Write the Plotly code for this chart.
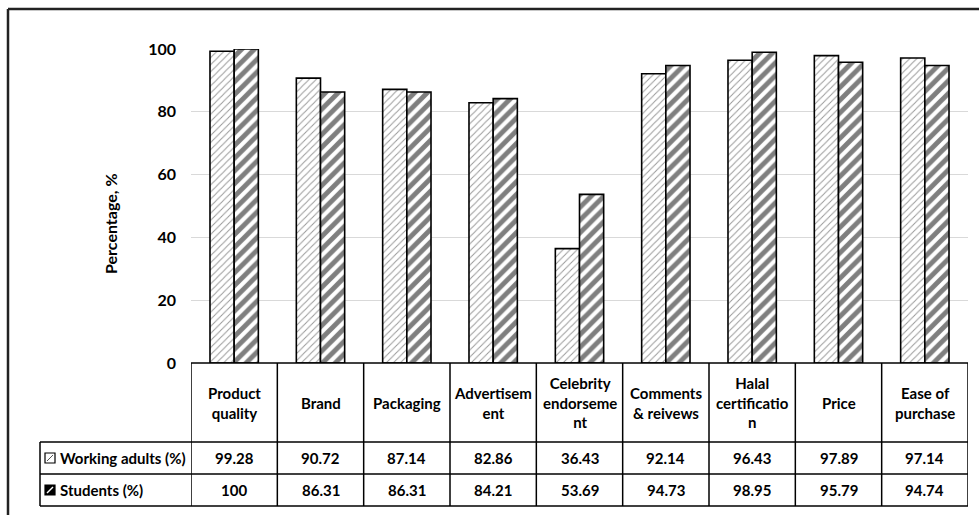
import plotly.graph_objects as go

# Factor labels as they wrap inside the table header cells
categories = [
    "Product<br>quality",
    "Brand",
    "Packaging",
    "Advertisem<br>ent",
    "Celebrity<br>endorseme<br>nt",
    "Comments<br>& reivews",
    "Halal<br>certificatio<br>n",
    "Price",
    "Ease of<br>purchase",
]
working_adults = [99.28, 90.72, 87.14, 82.86, 36.43, 92.14, 96.43, 97.89, 97.14]
students = [100, 86.31, 86.31, 84.21, 53.69, 94.73, 98.95, 95.79, 94.74]
series_names = ["Working adults (%)", "Students (%)"]
y_ticks = [0, 20, 40, 60, 80, 100]

FONT = "Lato"
W, H = 979, 515
L, R, T, B = 191, 11, 49, 152
PW, PH = W - L - R, H - T - B


def px_x(p):
    return (p - L) / PW


def px_y(p):
    return (H - B - p) / PH


fig = go.Figure()
fig.add_bar(
    x=categories, y=working_adults, name=series_names[0],
    marker=dict(color="white", line=dict(color="black", width=1.6),
                pattern=dict(shape="/", size=5, solidity=0.2,
                             fgcolor="#333", bgcolor="white")),
)
fig.add_bar(
    x=categories, y=students, name=series_names[1],
    marker=dict(color="white", line=dict(color="black", width=1.6),
                pattern=dict(shape="/", size=9, solidity=0.55,
                             fgcolor="black", bgcolor="white")),
)

shapes = []
ann = []
line = dict(color="black", width=1.5)

# Row boundaries of the data table (pixel rows)
y_top, y_head, y_row1, y_row2 = H - B, 442, 474, 506
x_leg = 40

# horizontal rules
shapes.append(dict(type="line", xref="x", yref="paper", x0=-0.5, x1=len(categories) - 0.5,
                   y0=0, y1=0, line=line))
for yp in (y_head, y_row1, y_row2):
    shapes.append(dict(type="line", xref="paper", yref="paper", x0=px_x(x_leg), x1=1,
                       y0=px_y(yp), y1=px_y(yp), line=line))
# vertical rules
for i in range(len(categories) + 1):
    shapes.append(dict(type="line", xref="x", yref="paper", x0=i - 0.5, x1=i - 0.5,
                       y0=0, y1=px_y(y_row2), line=line))
shapes.append(dict(type="line", xref="paper", yref="paper", x0=px_x(x_leg), x1=px_x(x_leg),
                   y0=px_y(y_head), y1=px_y(y_row2), line=line))

# legend keys in the row headers
kx0, kx1 = 45, 55
for yc, dark in (((y_head + y_row1) / 2, False), ((y_row1 + y_row2) / 2, True)):
    shapes.append(dict(type="rect", xref="paper", yref="paper",
                       x0=px_x(kx0), x1=px_x(kx1), y0=px_y(yc - 5), y1=px_y(yc + 5),
                       fillcolor="black" if dark else "white",
                       line=dict(color="black", width=1.2)))
    shapes.append(dict(type="line", xref="paper", yref="paper",
                       x0=px_x(kx0 + 2), x1=px_x(kx1 - 2), y0=px_y(yc + 3), y1=px_y(yc - 3),
                       line=dict(color="white" if dark else "#555", width=1.5 if dark else 1)))

# outer frame: only its top and left edges fall inside the canvas
frame = dict(color="#222", width=2.5)
shapes.append(dict(type="line", xref="paper", yref="paper",
                   x0=px_x(8), x1=px_x(W + 5), y0=px_y(9), y1=px_y(9), line=frame))
shapes.append(dict(type="line", xref="paper", yref="paper",
                   x0=px_x(8), x1=px_x(8), y0=px_y(9), y1=px_y(H + 5), line=frame))

font = dict(family=FONT, size=15, color="black", weight="bold")

# header cells
for c in categories:
    ann.append(dict(x=c, xref="x", yref="paper", y=px_y((y_top + y_head) / 2),
                    text=c, showarrow=False, font=font, xanchor="center", yanchor="middle"))
# value cells
for vals, yc in ((working_adults, (y_head + y_row1) / 2), (students, (y_row1 + y_row2) / 2)):
    for c, v in zip(categories, vals):
        ann.append(dict(x=c, xref="x", yref="paper", y=px_y(yc), text=f"{v:g}",
                        showarrow=False, font=font, xanchor="center", yanchor="middle"))
# row headers
for name, yc in ((series_names[0], (y_head + y_row1) / 2), (series_names[1], (y_row1 + y_row2) / 2)):
    ann.append(dict(x=px_x(58), xref="paper", yref="paper", y=px_y(yc), text=name,
                    showarrow=False, font=font, xanchor="left", yanchor="middle"))

# y-axis title
ann.append(dict(x=px_x(110), xref="paper", yref="paper", y=px_y(224), text="Percentage, %",
                textangle=-90, showarrow=False, xanchor="center", yanchor="middle",
                font=dict(family=FONT, size=16, color="black", weight="bold")))

fig.update_layout(
    width=W, height=H,
    margin=dict(l=L, r=R, t=T, b=B, autoexpand=False),
    paper_bgcolor="white", plot_bgcolor="white",
    barmode="group", bargap=0.44, bargroupgap=0,
    showlegend=False,
    shapes=shapes, annotations=ann,
    xaxis=dict(range=[-0.5, len(categories) - 0.5], showticklabels=False,
               showline=False, showgrid=False, zeroline=False, fixedrange=True),
    yaxis=dict(range=[0, 100], tickvals=y_ticks, showgrid=True, gridcolor="#d9d9d9",
               gridwidth=1, zeroline=False, showline=False, ticks="",
               ticklabelstandoff=14,
               tickfont=dict(family=FONT, size=16, color="black", weight="bold")),
)

fig.write_html("out.html")
